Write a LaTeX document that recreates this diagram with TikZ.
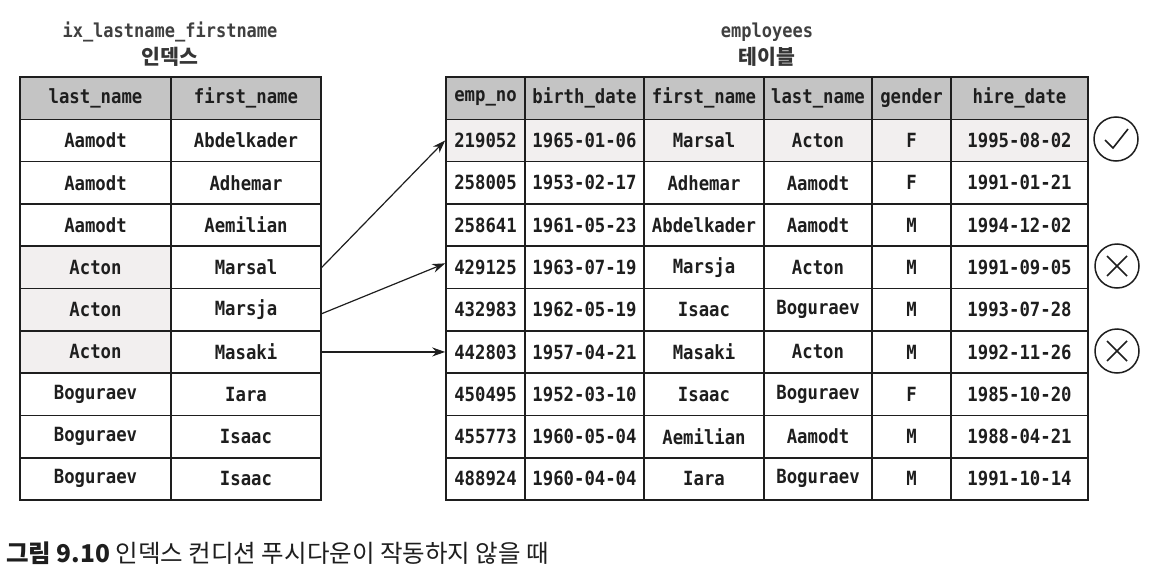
\documentclass[tikz,border=0pt]{standalone}
\usepackage{fontspec}
\usepackage{graphicx}
\setmonofont{DejaVu Sans Mono}
\newfontfamily\krfont{Noto Sans CJK KR}
\usetikzlibrary{arrows.meta,calc}
\definecolor{hdrgray}{RGB}{196,196,196}
\definecolor{rowshade}{RGB}{242,239,239}
\definecolor{ink}{RGB}{30,30,30}
\newcommand\mono[1]{\scalebox{1}[1.13]{#1}}
\newcommand\us{{\char"5F}}
\begin{document}
\begin{tikzpicture}[x=1pt,y=-1pt,
  cell/.style={draw=ink, line width=1.6pt, inner sep=0pt, minimum height=42.3pt,
    anchor=center, font=\fontsize{17.3}{20}\selectfont\ttfamily\bfseries, text=ink},
  arr/.style={draw=ink, line width=1.2pt, -{Stealth[length=13pt,width=9pt]}},
  okmark/.style={circle, draw=ink, line width=1.5pt, minimum size=44pt, inner sep=0pt},
  markline/.style={draw=ink, line width=1.6pt},
  monotitle/.style={font=\fontsize{17}{20}\selectfont\ttfamily\bfseries, text=ink!85, inner sep=0pt},
  krtitle/.style={font=\krfont\bfseries\fontsize{20.5}{22}\selectfont, text=ink!90, inner sep=0pt}]
\useasboundingbox[fill=white] (0,0) rectangle (1164,586);

% titles
\node[monotitle] (t1) at (170,32) {\mono{ix\us lastname\us firstname}};
\node[krtitle] (t1k) at (170,57) {인덱스};
\node[monotitle] (t2) at (767,32) {\mono{employees}};
\node[krtitle] (t2k) at (767,57) {테이블};

% left table
\node[cell, fill=hdrgray, minimum width=151pt] (L0a) at (95.5,98.15) {\mono{last\us name}};
\node[cell, fill=hdrgray, minimum width=150pt] (L0b) at (246,98.15) {\mono{first\us name}};
\foreach \r/\va/\vb/\vs in {1/Aamodt/Abdelkader/white, 2/Aamodt/Adhemar/white,
  3/Aamodt/Aemilian/white, 4/Acton/Marsal/rowshade, 5/Acton/Marsja/rowshade,
  6/Acton/Masaki/rowshade, 7/Boguraev/Iara/white, 8/Boguraev/Isaac/white,
  9/Boguraev/Isaac/white}{
  \node[cell, fill=\vs, minimum width=151pt] (L\r a) at (95.5,{77+(\r+0.5)*42.3}) {\mono{\va}};
  \node[cell, fill=white, minimum width=150pt] (L\r b) at (246,{77+(\r+0.5)*42.3}) {\mono{\vb}};
}

% right table
\node[cell, fill=hdrgray, minimum width=79pt] (R0a) at (485.5,98.15) {\mono{emp\us no}};
\node[cell, fill=hdrgray, minimum width=119pt] (R0b) at (584.5,98.15) {\mono{birth\us date}};
\node[cell, fill=hdrgray, minimum width=120pt] (R0c) at (704,98.15) {\mono{first\us name}};
\node[cell, fill=hdrgray, minimum width=108pt] (R0d) at (818,98.15) {\mono{last\us name}};
\node[cell, fill=hdrgray, minimum width=79pt] (R0e) at (911.5,98.15) {\mono{gender}};
\node[cell, fill=hdrgray, minimum width=137pt] (R0f) at (1019.5,98.15) {\mono{hire\us date}};
\foreach \r/\va/\vb/\vc/\vd/\ve/\vf/\vs in {
  1/219052/1965-01-06/Marsal/Acton/F/1995-08-02/rowshade,
  2/258005/1953-02-17/Adhemar/Aamodt/F/1991-01-21/white,
  3/258641/1961-05-23/Abdelkader/Aamodt/M/1994-12-02/white,
  4/429125/1963-07-19/Marsja/Acton/M/1991-09-05/white,
  5/432983/1962-05-19/Isaac/Boguraev/M/1993-07-28/white,
  6/442803/1957-04-21/Masaki/Acton/M/1992-11-26/white,
  7/450495/1952-03-10/Isaac/Boguraev/F/1985-10-20/white,
  8/455773/1960-05-04/Aemilian/Aamodt/M/1988-04-21/white,
  9/488924/1960-04-04/Iara/Boguraev/M/1991-10-14/white}{
  \node[cell, fill=\vs, minimum width=79pt] (R\r a) at (485.5,{77+(\r+0.5)*42.3}) {\mono{\va}};
  \node[cell, fill=\vs, minimum width=119pt] (R\r b) at (584.5,{77+(\r+0.5)*42.3}) {\mono{\vb}};
  \node[cell, fill=\vs, minimum width=120pt] (R\r c) at (704,{77+(\r+0.5)*42.3}) {\mono{\vc}};
  \node[cell, fill=\vs, minimum width=108pt] (R\r d) at (818,{77+(\r+0.5)*42.3}) {\mono{\vd}};
  \node[cell, fill=\vs, minimum width=79pt] (R\r e) at (911.5,{77+(\r+0.5)*42.3}) {\mono{\ve}};
  \node[cell, fill=\vs, minimum width=137pt] (R\r f) at (1019.5,{77+(\r+0.5)*42.3}) {\mono{\vf}};
}

% arrows
\draw[arr] (L4b.east) -- (R1a.west);
\draw[arr] ($(L5b.east)+(0,4)$) -- ($(R4a.west)+(0,-4)$);
\draw[arr] (L6b.east) -- (R6a.west);

% marks
\node[okmark] (ok1) at (1116,139) {};
\draw[markline] ($(ok1)+(-11,1)$) -- ($(ok1)+(-3,9)$) -- ($(ok1)+(12,-10)$);
\node[okmark] (no1) at (1117,266) {};
\draw[markline] ($(no1)+(-10,-10)$) -- ($(no1)+(10,10)$);
\draw[markline] ($(no1)+(-10,10)$) -- ($(no1)+(10,-10)$);
\node[okmark] (no2) at (1117,351) {};
\draw[markline] ($(no2)+(-10,-10)$) -- ($(no2)+(10,10)$);
\draw[markline] ($(no2)+(-10,10)$) -- ($(no2)+(10,-10)$);

% caption
\node[anchor=west, inner sep=0pt, text=ink, font=\krfont\fontsize{24.5}{28}\selectfont] (cap) at (6,553)
  {\textbf{그림 9.10} 인덱스 컨디션 푸시다운이 작동하지 않을 때};
\end{tikzpicture}
\end{document}
